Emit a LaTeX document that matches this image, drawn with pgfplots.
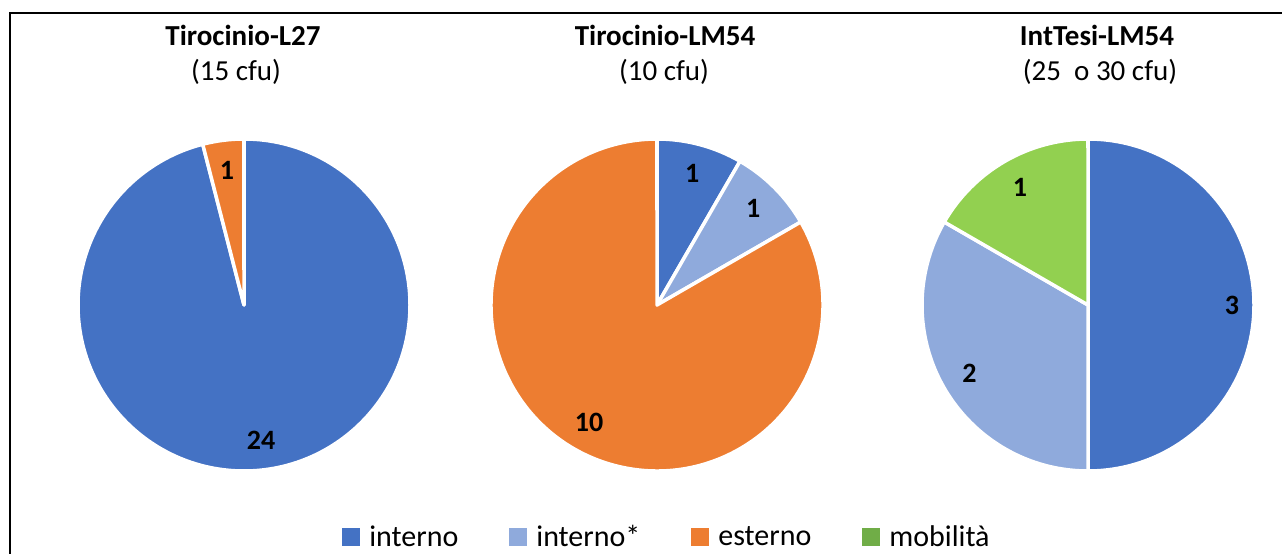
\documentclass[border=0pt]{standalone}
\usepackage{pgfplots}
\pgfplotsset{compat=1.18}
\usepackage{fontspec}
\setmainfont{Carlito}

\definecolor{cInt}{HTML}{4472C4}
\definecolor{cIntS}{HTML}{8FAADC}
\definecolor{cEst}{HTML}{ED7D31}
\definecolor{cMob}{HTML}{92D050}
\definecolor{cMobL}{HTML}{70AD47}

% one slice: centre x, values before it, value, total, colour, label radius
\newcommand{\slice}[6]{%
  \fill[#5, draw=white, line width=3.5pt, line join=round]
    (axis cs:#1,249) -- ([shift={({90-#2/#4*360}:166pt)}]axis cs:#1,249)
    arc[start angle={90-#2/#4*360}, delta angle={-#3/#4*360}, radius=166pt] -- cycle;
  \node[font=\bfseries\fontsize{28}{30}\selectfont]
    at ([shift={({90-(#2+#3/2)/#4*360}:#6pt)}]axis cs:#1,249) {#3};
}
\newcommand{\sq}[1]{\fill[#1, draw=none] (0pt,-9pt) rectangle (18pt,9pt);
  \path[draw=none, fill=none] (0pt,0pt) -- (25pt,0pt);}

\begin{document}
\begin{tikzpicture}
\useasboundingbox (0,0) rectangle (1282pt,554pt);
\begin{axis}[
  at={(0,0)}, anchor=south west,
  width=1282pt, height=554pt, scale only axis,
  xmin=0, xmax=1282, ymin=0, ymax=554,
  hide axis, clip=false,
  legend columns=4,
  legend style={draw=none, fill=none, at={(axis cs:667,17)}, anchor=center,
    font=\fontsize{30}{36}\selectfont, nodes={inner sep=2pt},
    /tikz/every even column/.append style={column sep=49pt}},
]
\addlegendimage{legend image code/.code={\sq{cInt}}}
\addlegendentry{interno}
\addlegendimage{legend image code/.code={\sq{cIntS}}}
\addlegendentry{interno*}
\addlegendimage{legend image code/.code={\sq{cEst}}}
\addlegendentry{esterno}
\addlegendimage{legend image code/.code={\sq{cMobL}}}
\addlegendentry{mobilità}

% frame
\draw[line width=2pt] (axis cs:10,0) -- (axis cs:10,540.5) -- (axis cs:1282,540.5);

% Tirocinio-L27: interno 24, esterno 1
\slice{244}{0}{24}{25}{cInt}{136}
\slice{244}{24}{1}{25}{cEst}{136}
% Tirocinio-LM54: interno 1, interno* 1, esterno 10
\slice{657}{0}{1}{12}{cInt}{136}
\slice{657}{1}{1}{12}{cIntS}{136}
\slice{657}{2}{10}{12}{cEst}{136}
% IntTesi-LM54: interno 3, interno* 2, mobilita 1
\slice{1088}{0}{3}{6}{cInt}{144}
\slice{1088}{3}{2}{6}{cIntS}{137}
\slice{1088}{5}{1}{6}{cMob}{136}

% titles
\node[font=\bfseries\fontsize{29}{34}\selectfont] at (axis cs:243,519) {Tirocinio-L27};
\node[font=\fontsize{29}{34}\selectfont] at (axis cs:236,482) {(15 cfu)};
\node[font=\bfseries\fontsize{29}{34}\selectfont] at (axis cs:665,519) {Tirocinio-LM54};
\node[font=\fontsize{29}{34}\selectfont] at (axis cs:664,482) {(10 cfu)};
\node[font=\bfseries\fontsize{29}{34}\selectfont] at (axis cs:1097,519) {IntTesi-LM54};
\node[font=\fontsize{29}{34}\selectfont] at (axis cs:1100,482) {(25\ \ o 30 cfu)};
\end{axis}
\end{tikzpicture}
\end{document}
